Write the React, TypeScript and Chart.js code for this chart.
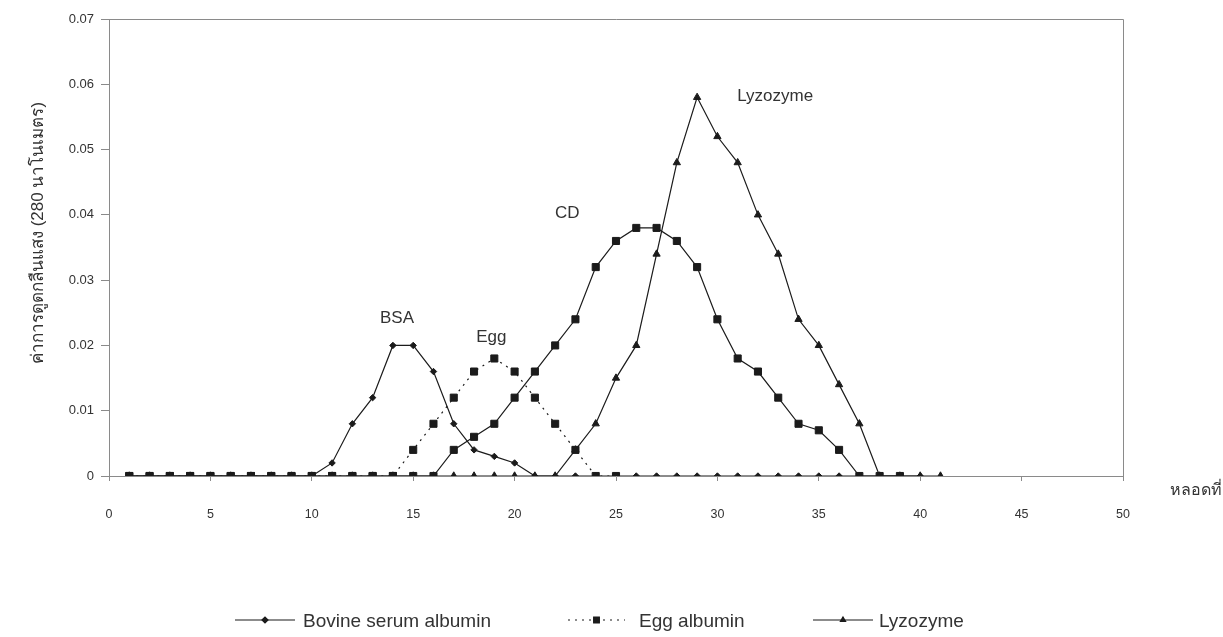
import React, { useEffect, useRef } from "react";
import { Chart, registerables } from "chart.js";
import { drawPoint } from "chart.js/helpers";

Chart.register(...registerables);

// ---- data ----
const tubes = [1, 2, 3, 4, 5, 6, 7, 8, 9, 10, 11, 12, 13, 14, 15, 16, 17, 18, 19, 20, 21, 22, 23, 24, 25, 26, 27, 28, 29, 30, 31, 32, 33, 34, 35, 36, 37, 38, 39, 40, 41];

const bsaValues = [0, 0, 0, 0, 0, 0, 0, 0, 0, 0, 0.002, 0.008, 0.012, 0.02, 0.02, 0.016, 0.008, 0.004, 0.003, 0.002, 0, 0, 0, 0, 0, 0, 0, 0, 0, 0, 0, 0, 0, 0, 0, 0, 0, 0, 0, 0];
const eggValues = [0, 0, 0, 0, 0, 0, 0, 0, 0, 0, 0, 0, 0, 0, 0.004, 0.008, 0.012, 0.016, 0.018, 0.016, 0.012, 0.008, 0.004, 0, 0];
const cdValues = [0, 0, 0, 0, 0, 0, 0, 0, 0, 0, 0, 0, 0, 0, 0, 0, 0.004, 0.006, 0.008, 0.012, 0.016, 0.02, 0.024, 0.032, 0.036, 0.038, 0.038, 0.036, 0.032, 0.024, 0.018, 0.016, 0.012, 0.008, 0.007, 0.004, 0, 0, 0];
const lysozymeValues = [0, 0, 0, 0, 0, 0, 0, 0, 0, 0, 0, 0, 0, 0, 0, 0, 0, 0, 0, 0, 0, 0, 0.004, 0.008, 0.015, 0.02, 0.034, 0.048, 0.058, 0.052, 0.048, 0.04, 0.034, 0.024, 0.02, 0.014, 0.008, 0, 0, 0, 0];

const xTickValues = [0, 5, 10, 15, 20, 25, 30, 35, 40, 45, 50];
const yTickValues = [0, 0.01, 0.02, 0.03, 0.04, 0.05, 0.06, 0.07];

const peakLabels = ["BSA", "Egg", "CD", "Lyzozyme"];
const peakLabelX = [14.2, 18.85, 22.6, 32.85];
const peakLabelY = [0.0241, 0.0212, 0.0403, 0.0581];

const legendNames = ["Bovine serum albumin", "Egg albumin", "Lyzozyme"];

const yTitle = "ค่าการดูดกลืนแสง (280 นาโนเมตร)";
const xTitle = "หลอดที่";

const FONT = "'Liberation Sans', Arial, sans-serif";
const INK = "#1b1b1b";
const AXIS = "#8a8a8a";
const TEXT = "#333333";

const toPoints = (vals: number[]) => vals.map((v, i) => ({ x: tubes[i], y: v }));

const extrasPlugin = {
  id: "extras",
  afterDraw(chart: any) {
    const { ctx, chartArea, scales } = chart;
    const xs = scales.x;
    const ys = scales.y;
    ctx.save();
    // plot frame (top & right)
    ctx.strokeStyle = AXIS;
    ctx.lineWidth = 1;
    ctx.beginPath();
    ctx.moveTo(chartArea.left, chartArea.top + 0.5);
    ctx.lineTo(chartArea.right + 0.5, chartArea.top + 0.5);
    ctx.lineTo(chartArea.right + 0.5, chartArea.bottom);
    ctx.stroke();

    // peak labels
    ctx.fillStyle = TEXT;
    ctx.font = `17px ${FONT}`;
    ctx.textAlign = "center";
    ctx.textBaseline = "middle";
    peakLabels.forEach((t, i) => {
      ctx.fillText(t, xs.getPixelForValue(peakLabelX[i]), ys.getPixelForValue(peakLabelY[i]));
    });

    // y title
    ctx.save();
    ctx.translate(38, 233);
    ctx.rotate(-Math.PI / 2);
    ctx.font = `17px ${FONT}`;
    ctx.fillStyle = TEXT;
    ctx.fillText(yTitle, 0, 0);
    ctx.restore();

    // x title
    ctx.font = `16px ${FONT}`;
    ctx.fillStyle = TEXT;
    ctx.textAlign = "left";
    ctx.fillText(xTitle, 1170, 491);

    // legend
    const items = [
      { x0: 235, x1: 295, tx: 303, dash: [] as number[], style: "rectRot", r: 3 },
      { x0: 568, x1: 625, tx: 639, dash: [2, 5], style: "rect", r: 4 },
      { x0: 813, x1: 873, tx: 879, dash: [] as number[], style: "triangle", r: 3 },
    ];
    const ly = 620;
    items.forEach((it, i) => {
      ctx.strokeStyle = INK;
      ctx.lineWidth = 1.2;
      ctx.setLineDash(it.dash);
      ctx.beginPath();
      ctx.moveTo(it.x0, ly);
      ctx.lineTo(it.x1, ly);
      ctx.stroke();
      ctx.setLineDash([]);
      ctx.fillStyle = INK;
      drawPoint(ctx, { pointStyle: it.style, radius: it.r, rotation: 0, borderWidth: 1 } as any, (it.x0 + it.x1) / 2, ly);
      ctx.fill();
      ctx.font = `19px ${FONT}`;
      ctx.fillStyle = TEXT;
      ctx.textAlign = "left";
      ctx.textBaseline = "middle";
      ctx.fillText(legendNames[i], it.tx, ly + 2);
    });
    ctx.restore();
  },
};

export default function App() {
  const ref = useRef<HTMLCanvasElement | null>(null);

  useEffect(() => {
    document.body.style.margin = "0";
    const canvas = ref.current;
    if (!canvas) return;
    Chart.defaults.font.family = FONT;

    const common = {
      borderColor: INK,
      backgroundColor: INK,
      pointBackgroundColor: INK,
      pointBorderColor: INK,
      borderWidth: 1.2,
      tension: 0,
      pointBorderWidth: 1,
    };

    const chart = new Chart(canvas, {
      type: "line",
      data: {
        datasets: [
          { ...common, label: "Bovine serum albumin", data: toPoints(bsaValues), pointStyle: "rectRot", pointRadius: 3.2 },
          { ...common, label: "Egg albumin", data: toPoints(eggValues), pointStyle: "rect", pointRadius: 5, borderDash: [2, 5] },
          { ...common, label: "CD", data: toPoints(cdValues), pointStyle: "rect", pointRadius: 5 },
          { ...common, label: "Lyzozyme", data: toPoints(lysozymeValues), pointStyle: "triangle", pointRadius: 4.2 },
        ],
      },
      options: {
        animation: false,
        responsive: false,
        maintainAspectRatio: false,
        layout: { padding: { left: 0, top: 19, right: 100, bottom: 0 } },
        plugins: { legend: { display: false }, tooltip: { enabled: false } },
        scales: {
          x: {
            type: "linear",
            min: 0,
            max: 50,
            afterBuildTicks: (s: any) => {
              s.ticks = xTickValues.map((v) => ({ value: v }));
            },
            afterFit: (s: any) => {
              s.height = 161;
            },
            ticks: { color: TEXT, font: { size: 12.5 }, padding: 26, maxRotation: 0, autoSkip: false },
            grid: { display: true, drawOnChartArea: false, drawTicks: true, tickLength: 5, color: AXIS },
            border: { display: true, color: AXIS, width: 1 },
          },
          y: {
            type: "linear",
            min: 0,
            max: 0.07,
            afterBuildTicks: (s: any) => {
              s.ticks = yTickValues.map((v) => ({ value: v }));
            },
            afterFit: (s: any) => {
              s.width = 109;
            },
            ticks: {
              color: TEXT,
              font: { size: 13 },
              padding: 7,
              callback: (v: any) => (v === 0 ? "0" : Number(v).toFixed(2)),
            },
            grid: { display: true, drawOnChartArea: false, drawTicks: true, tickLength: 8, color: AXIS },
            border: { display: true, color: AXIS, width: 1 },
          },
        },
      },
      plugins: [extrasPlugin],
    });
    return () => chart.destroy();
  }, []);

  return <canvas ref={ref} width={1223} height={637} style={{ display: "block", width: 1223, height: 637 }} />;
}
